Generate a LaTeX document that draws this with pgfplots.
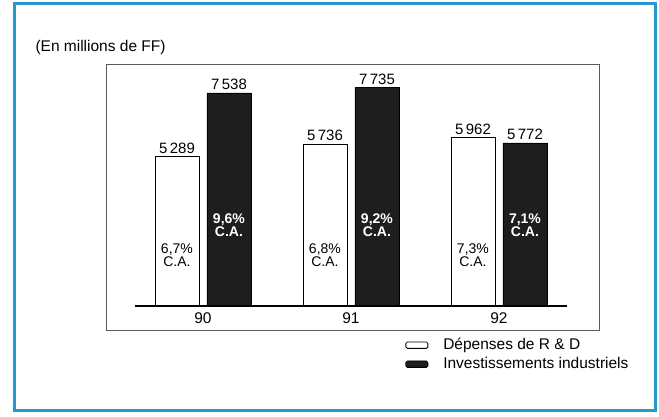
\documentclass[border=0pt]{standalone}
\usepackage{fontspec}
\setmainfont{Liberation Sans}
\usepackage{pgfplots}
\pgfplotsset{compat=1.18}

\definecolor{framecol}{RGB}{38,152,205}
\definecolor{barblack}{RGB}{30,30,30}
\definecolor{boxgray}{RGB}{90,90,90}

% Dépenses de R & D
\pgfplotstableread{
x  y
0  5289
1  5736
2  5962
}\rdtable
% Investissements industriels
\pgfplotstableread{
x  y
0  7538
1  7735
2  5772
}\invtable

\tikzset{
    rdshare/.style={align=center, font=\fontsize{14}{14}\selectfont, black, xshift=-26pt},
    invshare/.style={align=center, font=\bfseries\fontsize{14}{14}\selectfont, white, xshift=26pt},
}

\begin{document}
\begin{tikzpicture}
\useasboundingbox (0pt,0pt) rectangle (659pt,417pt);

\begin{axis}[
    at={(106pt,87pt)}, anchor=south west,
    scale only axis,
    width=493pt, height=266pt,
    xmin=-0.655, xmax=2.676,
    ymin=-849, ymax=8563,
    ybar,
    bar width=44pt,
    axis line style={boxgray, line width=0.8pt},
    ytick=\empty,
    xtick={0,1,2},
    xticklabels={90,91,92},
    major tick length=0pt,
    xticklabel style={anchor=center, yshift=12pt, font=\fontsize{15.5}{15.5}\selectfont},
    /pgf/number format/assume math mode=true,
    point meta=y,
    nodes near coords={\pgfmathprintnumber[fixed, precision=0, 1000 sep={\,}]{\pgfplotspointmeta}},
    nodes near coords style={anchor=south, inner sep=2.5pt, font=\fontsize{15}{15}\selectfont, black},
    legend image code/.code={\draw[#1, line width=0.8pt, rounded corners=1.5pt] (0pt,-3.2pt) rectangle (22pt,3.2pt);},
    legend cell align=left,
    legend style={
        at={(axis description cs:0.607,-0.03)}, anchor=north west,
        draw=none, fill=none, inner sep=0pt, row sep=5pt,
        font=\fontsize{15.5}{15.5}\selectfont,
        nodes={inner sep=0pt, text height=11pt, text depth=3pt},
        /tikz/every odd column/.append style={column sep=15pt},
    },
    clip=false,
]
\addplot[draw=black, fill=white, line width=0.7pt, bar shift=-26pt] table[x=x, y=y] {\rdtable};
\addlegendentry{Dépenses de R \& D}
\addplot[draw=black, fill=barblack, line width=0.7pt, bar shift=26pt] table[x=x, y=y] {\invtable};
\addlegendentry{Investissements industriels}

% baseline under the bars
\draw[black, line width=1.4pt] (axis cs:-0.459,0) -- (axis cs:2.459,0);

% share of turnover printed inside the bars
\node[rdshare]  at (axis cs:0,1805) {6,7\%\\[-0.5pt]C.A.};
\node[invshare] at (axis cs:0,2866) {9,6\%\\[-0.5pt]C.A.};
\node[rdshare]  at (axis cs:1,1805) {6,8\%\\[-0.5pt]C.A.};
\node[invshare] at (axis cs:1,2866) {9,2\%\\[-0.5pt]C.A.};
\node[rdshare]  at (axis cs:2,1805) {7,3\%\\[-0.5pt]C.A.};
\node[invshare] at (axis cs:2,2866) {7,1\%\\[-0.5pt]C.A.};
\end{axis}

\node[anchor=west, font=\fontsize{15.5}{15.5}\selectfont] at (32pt,370pt) {(En millions de FF)};

\draw[framecol, line width=3pt] (14.5pt,6pt) rectangle (655pt,413pt);
\end{tikzpicture}
\end{document}
